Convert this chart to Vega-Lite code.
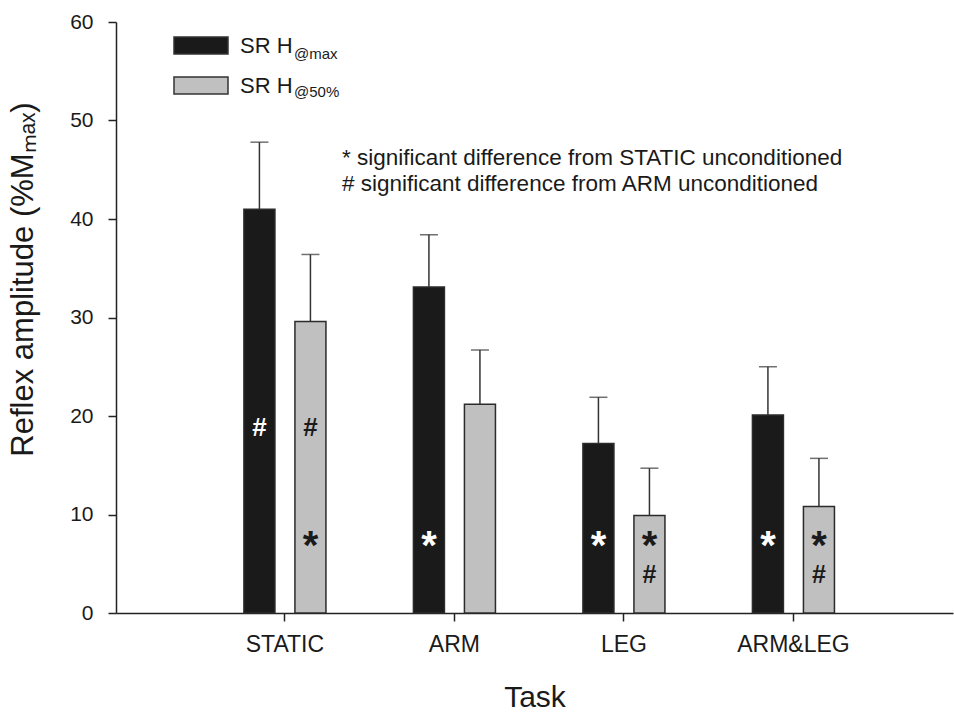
{
  "$schema": "https://vega.github.io/schema/vega-lite/v6.json",
  "width": 837,
  "height": 591,
  "autosize": {"type": "none"},
  "padding": {"left": 116, "top": 22, "right": 1, "bottom": 100},
  "background": "white",
  "config": {
    "view": {"stroke": null},
    "font": "Liberation Sans",
    "axis": {
      "domainColor": "#222222",
      "domainWidth": 1.5,
      "tickColor": "#222222",
      "tickWidth": 1.5,
      "tickSize": 8,
      "labelColor": "#1a1a1a",
      "labelFont": "Liberation Sans",
      "titleFont": "Liberation Sans",
      "titleColor": "#1a1a1a",
      "titleFontWeight": "normal",
      "grid": false
    }
  },
  "data": {
    "values": [
      {"task": "STATIC", "series": "SR H@max", "sub": "@max", "value": 41.0, "upper": 47.8, "star": "", "hashHi": "#", "hashLo": ""},
      {"task": "STATIC", "series": "SR H@50%", "sub": "@50%", "value": 29.6, "upper": 36.4, "star": "*", "hashHi": "#", "hashLo": ""},
      {"task": "ARM", "series": "SR H@max", "sub": "@max", "value": 33.1, "upper": 38.4, "star": "*", "hashHi": "", "hashLo": ""},
      {"task": "ARM", "series": "SR H@50%", "sub": "@50%", "value": 21.2, "upper": 26.7, "star": "", "hashHi": "", "hashLo": ""},
      {"task": "LEG", "series": "SR H@max", "sub": "@max", "value": 17.2, "upper": 21.9, "star": "*", "hashHi": "", "hashLo": ""},
      {"task": "LEG", "series": "SR H@50%", "sub": "@50%", "value": 9.9, "upper": 14.7, "star": "*", "hashHi": "", "hashLo": "#"},
      {"task": "ARM&LEG", "series": "SR H@max", "sub": "@max", "value": 20.1, "upper": 25.0, "star": "*", "hashHi": "", "hashLo": ""},
      {"task": "ARM&LEG", "series": "SR H@50%", "sub": "@50%", "value": 10.8, "upper": 15.7, "star": "*", "hashHi": "", "hashLo": "#"}
    ]
  },
  "encoding": {
    "x": {
      "field": "task",
      "type": "nominal",
      "sort": ["STATIC", "ARM", "LEG", "ARM&LEG"],
      "scale": {"domain": ["STATIC", "ARM", "LEG", "ARM&LEG"], "paddingInner": 0.516, "paddingOuter": 0.727, "align": 0.519},
      "axis": {
        "title": "Task",
        "labelAngle": 0,
        "labelFontSize": 23,
        "labelPadding": 12,
        "titleFontSize": 30,
        "titleBaseline": "alphabetic",
        "titleY": 93
      }
    },
    "xOffset": {
      "field": "series",
      "type": "nominal",
      "scale": {"domain": ["SR H@max", "SR H@50%"], "paddingInner": 0.392, "paddingOuter": 0}
    }
  },
  "layer": [
    {
      "mark": {"type": "bar", "stroke": "#2b2b2b"},
      "encoding": {
        "y": {
          "field": "value",
          "type": "quantitative",
          "scale": {"domain": [0, 60], "nice": false},
          "axis": {
            "title": "Reflex amplitude (%Mₘₐₓ)",
            "values": [0, 10, 20, 30, 40, 50, 60],
            "labelFontSize": 21,
            "labelPadding": 15,
            "titleFontSize": 31,
            "titleBaseline": "alphabetic",
            "titleX": -84,
            "titleY": 257
          }
        },
        "fill": {
          "field": "series",
          "type": "nominal",
          "scale": {"domain": ["SR H@max", "SR H@50%"], "range": ["#1a1a1a", "#c0c0c0"]},
          "legend": {
            "orient": "none",
            "legendX": 57,
            "legendY": -4.5,
            "title": null,
            "padding": 0,
            "symbolType": "M-1,-0.315H1V0.315H-1Z",
            "symbolSize": 2916,
            "symbolStrokeColor": "#333333",
            "symbolStrokeWidth": 1.5,
            "labelFontSize": 22,
            "labelColor": "#1a1a1a",
            "labelExpr": "'SR H'",
            "labelOffset": 11,
            "rowPadding": -2.5
          }
        },
        "strokeWidth": {
          "field": "sub",
          "type": "nominal",
          "scale": {"domain": ["@max", "@50%"], "range": [1.5, 1.5]},
          "legend": {
            "orient": "none",
            "legendX": 163,
            "legendY": 24,
            "title": null,
            "padding": 0,
            "symbolType": "circle",
            "symbolSize": 1,
            "symbolOpacity": 0,
            "symbolStrokeWidth": 0,
            "labelFontSize": 15,
            "labelColor": "#1a1a1a",
            "labelOffset": 0,
            "rowPadding": 22
          }
        }
      }
    },
    {
      "mark": {"type": "rule", "color": "#333333", "strokeWidth": 1.5},
      "encoding": {
        "y": {"field": "value", "type": "quantitative"},
        "y2": {"field": "upper"}
      }
    },
    {
      "mark": {"type": "tick", "color": "#333333", "size": 18, "thickness": 1.5},
      "encoding": {
        "y": {"field": "upper", "type": "quantitative"}
      }
    },
    {
      "mark": {"type": "text", "fontSize": 40, "fontWeight": "bold", "baseline": "alphabetic", "align": "center"},
      "encoding": {
        "y": {"datum": 5.5, "type": "quantitative"},
        "text": {"field": "star"},
        "fill": {"condition": {"test": "datum.series === 'SR H@max'", "value": "white"}, "value": "#1a1a1a"}
      }
    },
    {
      "mark": {"type": "text", "fontSize": 26, "fontWeight": "bold", "baseline": "alphabetic", "align": "center"},
      "encoding": {
        "y": {"datum": 18.0, "type": "quantitative"},
        "text": {"field": "hashHi"},
        "fill": {"condition": {"test": "datum.series === 'SR H@max'", "value": "white"}, "value": "#1a1a1a"}
      }
    },
    {
      "mark": {"type": "text", "fontSize": 25, "fontWeight": "bold", "baseline": "alphabetic", "align": "center"},
      "encoding": {
        "y": {"datum": 3.0, "type": "quantitative"},
        "text": {"field": "hashLo"},
        "fill": {"condition": {"test": "datum.series === 'SR H@max'", "value": "white"}, "value": "#1a1a1a"}
      }
    },
    {
      "data": {"values": [{"note": "legend"}]},
      "mark": {"type": "text", "fontSize": 22.5, "align": "left", "baseline": "alphabetic", "lineHeight": 26, "dx": 57, "color": "#1a1a1a"},
      "encoding": {
        "x": {"datum": "STATIC"},
        "xOffset": null,
        "y": {"datum": 45.5, "type": "quantitative"},
        "text": {"value": ["* significant difference from STATIC unconditioned", "# significant difference from ARM unconditioned"]}
      }
    }
  ]
}
